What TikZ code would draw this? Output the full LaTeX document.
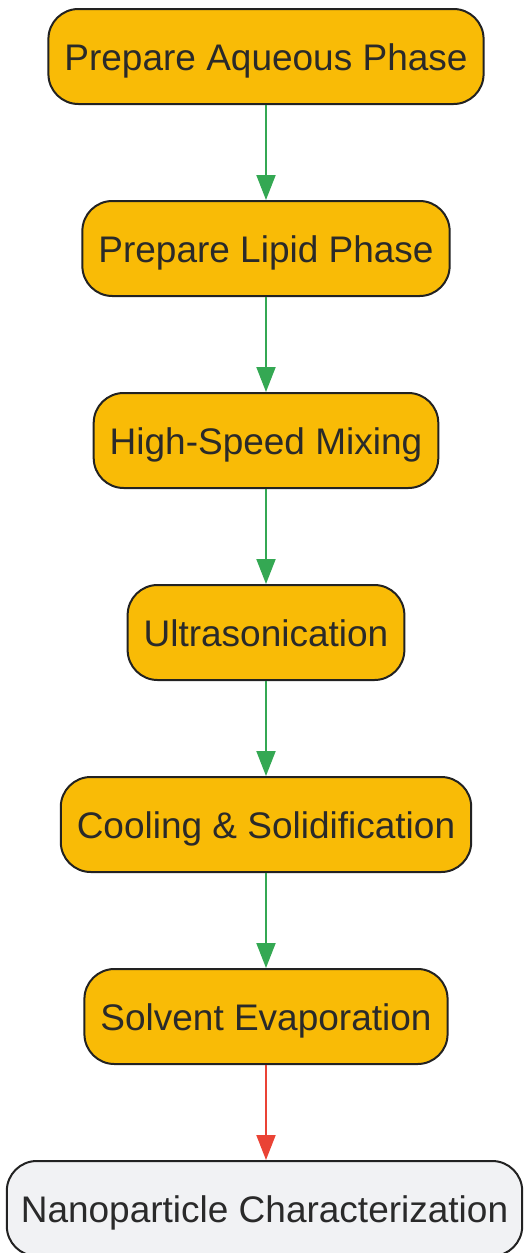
\documentclass[tikz,border=0pt]{standalone}
\usepackage{fontspec}
\setmainfont{Liberation Sans}
\usetikzlibrary{arrows.meta}
\definecolor{boxorange}{HTML}{F9BB06}
\definecolor{boxgray}{HTML}{F1F2F4}
\definecolor{edgedark}{HTML}{222222}
\definecolor{textdark}{HTML}{2A2A2A}
\definecolor{arrgreen}{HTML}{34A853}
\definecolor{arrred}{HTML}{EA4335}
\tikzset{
  stepbox/.style={draw=edgedark, line width=2pt, fill=boxorange, rounded corners=30pt,
    minimum height=95pt, inner xsep=16pt, text=textdark, text height=32pt, text depth=5pt,
    font=\fontsize{37}{42}\selectfont},
  endbox/.style={stepbox, fill=boxgray, inner xsep=14pt},
  flow/.style={draw=arrgreen, line width=2pt, -{Triangle[length=25pt,width=19pt]}},
  flowred/.style={flow, draw=arrred}
}
\begin{document}
\begin{tikzpicture}[x=1pt,y=-1pt]
\useasboundingbox (0,0) rectangle (523,1253);
\clip (0,0) rectangle (523,1253);
\node[stepbox] (a) at (266,56.5) {Prepare Aqueous Phase};
\node[stepbox] (b) at (266,248.5) {Prepare Lipid Phase};
\node[stepbox] (c) at (266,440.5) {High-Speed Mixing};
\node[stepbox] (d) at (266,632.5) {Ultrasonication};
\node[stepbox] (e) at (266,824.5) {Cooling \& Solidification};
\node[stepbox] (f) at (266,1016.5) {Solvent Evaporation};
\node[endbox] (g) at (264.5,1208.5) {Nanoparticle Characterization};
\draw[flow] (a) -- (b);
\draw[flow] (b) -- (c);
\draw[flow] (c) -- (d);
\draw[flow] (d) -- (e);
\draw[flow] (e) -- (f);
\draw[flowred] (f.south) -- (f.south |- g.north);
\end{tikzpicture}
\end{document}
